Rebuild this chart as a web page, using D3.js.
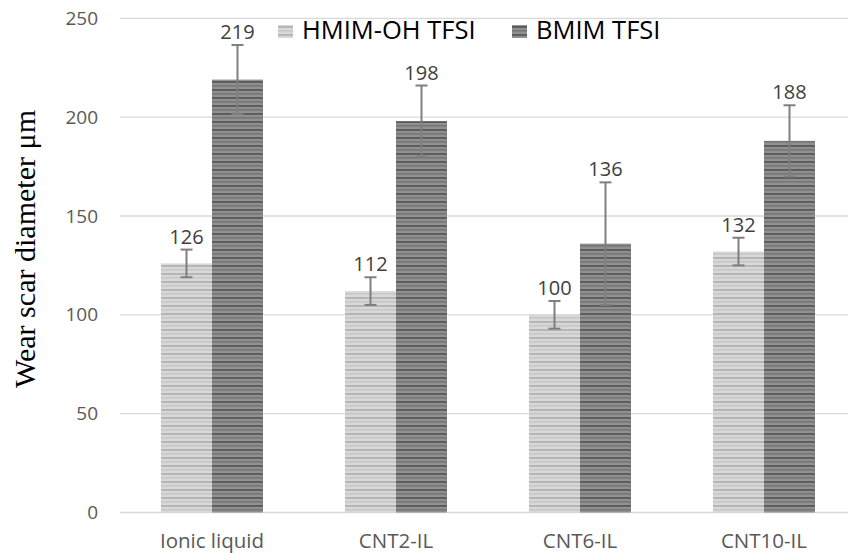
<!DOCTYPE html>
<html>
<head>
<meta charset="utf-8">
<script src="https://cdn.jsdelivr.net/npm/d3@7"></script>
<style>
  html, body { margin: 0; padding: 0; background: #fff; }
  svg { display: block; }
</style>
</head>
<body>
<svg id="chart" width="848" height="553"></svg>
<script>
// Wear scar diameter per sample, two ionic liquids
const categories = ["Ionic liquid", "CNT2-IL", "CNT6-IL", "CNT10-IL"];
const seriesNames = ["HMIM-OH TFSI", "BMIM TFSI"];
const hmimValues = [126, 112, 100, 132];
const bmimValues = [219, 198, 136, 188];
const hmimErrors = [7, 7, 7, 7];
const bmimErrors = [17.5, 18, 31, 18];
const yTicks = [0, 50, 100, 150, 200, 250];

const seriesValues = [hmimValues, bmimValues];
const seriesErrors = [hmimErrors, bmimErrors];

const svg = d3.select("#chart");
const W = 848, H = 553;

const x = d3.scaleBand()
  .domain(categories)
  .range([120, 856])
  .paddingInner(0.4457)
  .paddingOuter(0.4457 / 2);

const xs = d3.scaleBand()
  .domain(seriesNames)
  .range([0, x.bandwidth()]);

const y = d3.scaleLinear().domain([0, 250]).range([512.5, 18.3]);

// striped fills
const defs = svg.append("defs");
function stripes(id, bg, fg, fg2) {
  const p = defs.append("pattern")
    .attr("id", id)
    .attr("patternUnits", "userSpaceOnUse")
    .attr("width", 8).attr("height", 8);
  p.append("rect").attr("width", 8).attr("height", 8).attr("fill", bg);
  p.append("rect").attr("y", 1).attr("width", 8).attr("height", 2).attr("fill", fg);
  p.append("rect").attr("y", 5).attr("width", 8).attr("height", 1.5).attr("fill", fg2);
}
stripes("pLight", "#d8d8d8", "#b6b6b6", "#c6c6c6");
stripes("pDark", "#909090", "#5e5e5e", "#747474");
const fills = ["url(#pLight)", "url(#pDark)"];

// grid
svg.append("g")
  .selectAll("line")
  .data(yTicks)
  .join("line")
  .attr("x1", 120).attr("x2", W)
  .attr("y1", d => y(d)).attr("y2", d => y(d))
  .attr("stroke", "#d9d9d9")
  .attr("stroke-width", 1.3);

// y tick labels
svg.append("g")
  .selectAll("text")
  .data(yTicks)
  .join("text")
  .attr("x", 98)
  .attr("y", d => y(d))
  .attr("dy", "0.35em")
  .attr("text-anchor", "end")
  .attr("font-family", "'Open Sans', sans-serif")
  .attr("font-size", 19)
  .attr("fill", "#595959")
  .text(d => d);

// bars
const groups = svg.append("g")
  .selectAll("g")
  .data(categories)
  .join("g")
  .attr("transform", d => `translate(${x(d)},0)`);

seriesNames.forEach((s, si) => {
  groups.append("rect")
    .attr("x", xs(s))
    .attr("width", xs.bandwidth())
    .attr("y", (d, i) => y(seriesValues[si][i]))
    .attr("height", (d, i) => y(0) - y(seriesValues[si][i]))
    .attr("fill", fills[si]);
});

// error bars
seriesNames.forEach((s, si) => {
  const cx = xs(s) + xs.bandwidth() / 2;
  const eb = groups.append("g").attr("stroke", "#7f7f7f").attr("stroke-width", 2);
  eb.append("line")
    .attr("x1", cx).attr("x2", cx)
    .attr("y1", (d, i) => y(seriesValues[si][i] + seriesErrors[si][i]))
    .attr("y2", (d, i) => y(seriesValues[si][i] - seriesErrors[si][i]));
  [1, -1].forEach(sign => {
    eb.append("line")
      .attr("x1", cx - 6).attr("x2", cx + 6)
      .attr("y1", (d, i) => y(seriesValues[si][i] + sign * seriesErrors[si][i]))
      .attr("y2", (d, i) => y(seriesValues[si][i] + sign * seriesErrors[si][i]));
  });
  // value labels above the error caps
  groups.append("text")
    .attr("x", cx)
    .attr("y", (d, i) => y(seriesValues[si][i] + seriesErrors[si][i]) - 6)
    .attr("text-anchor", "middle")
    .attr("font-family", "'Open Sans', sans-serif")
    .attr("font-size", 20)
    .attr("fill", "#404040")
    .text((d, i) => seriesValues[si][i]);
});

// category labels
svg.append("g")
  .selectAll("text")
  .data(categories)
  .join("text")
  .attr("x", d => x(d) + x.bandwidth() / 2)
  .attr("y", 548)
  .attr("text-anchor", "middle")
  .attr("font-family", "'Open Sans', sans-serif")
  .attr("font-size", 20.5)
  .attr("fill", "#595959")
  .text(d => d);

// y axis title
svg.append("text")
  .attr("transform", "translate(35,249) rotate(-90)")
  .attr("text-anchor", "middle")
  .attr("font-family", "'Liberation Serif', 'Times New Roman', serif")
  .attr("font-size", 29)
  .attr("textLength", 278)
  .attr("lengthAdjust", "spacingAndGlyphs")
  .attr("fill", "#000")
  .text("Wear scar diameter μm");

// legend
const legendX = [278, 512];
const legend = svg.append("g")
  .selectAll("g")
  .data(seriesNames)
  .join("g")
  .attr("transform", (d, i) => `translate(${legendX[i]},25)`);
legend.append("rect")
  .attr("width", 15).attr("height", 13)
  .attr("fill", (d, i) => fills[i]);
legend.append("text")
  .attr("x", 24)
  .attr("y", 13.5)
  .attr("font-family", "'Open Sans', sans-serif")
  .attr("font-size", 25.5)
  .attr("fill", "#000")
  .text(d => d);
</script>
</body>
</html>
